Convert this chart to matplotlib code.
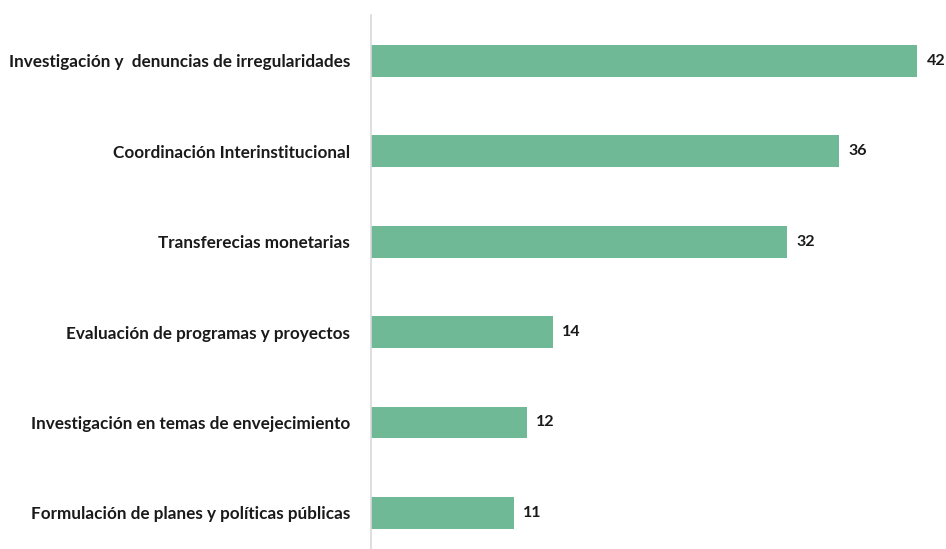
import numpy as np
import matplotlib.pyplot as plt

# data (bottom to top)
categories = ["Formulación de planes y políticas públicas",
              "Investigación en temas de envejecimiento",
              "Evaluación de programas y proyectos",
              "Transferecias monetarias",
              "Coordinación Interinstitucional",
              "Investigación y  denuncias de irregularidades"]
values = [11, 12, 14, 32, 36, 42]

plt.rcParams['font.family'] = ['Lato', 'DejaVu Sans']

fig = plt.figure(figsize=(9.46, 5.49), dpi=100)
ax = fig.add_axes([0.392, 0.0, 0.608, 0.973])

y = np.arange(len(categories))
ax.barh(y, values, height=0.35, color="#6fb997")

for yi, v in zip(y, values):
    ax.text(v + 0.7, yi, str(v), va="center", ha="left",
            fontsize=11.5, fontweight="bold", color="#1a1a1a")

ax.set_yticks(y)
ax.set_yticklabels(categories, fontsize=12.3, fontweight="bold", color="#1a1a1a")
ax.tick_params(axis="y", length=0, pad=15)
ax.set_xticks([])
ax.set_xlim(0, 44.2)
ax.set_ylim(-0.40, 5.51)

for s in ["top", "right", "bottom"]:
    ax.spines[s].set_visible(False)
ax.spines["left"].set_color("#d9d9d9")
ax.spines["left"].set_linewidth(1.2)

fig.savefig("out.png", dpi=100)
